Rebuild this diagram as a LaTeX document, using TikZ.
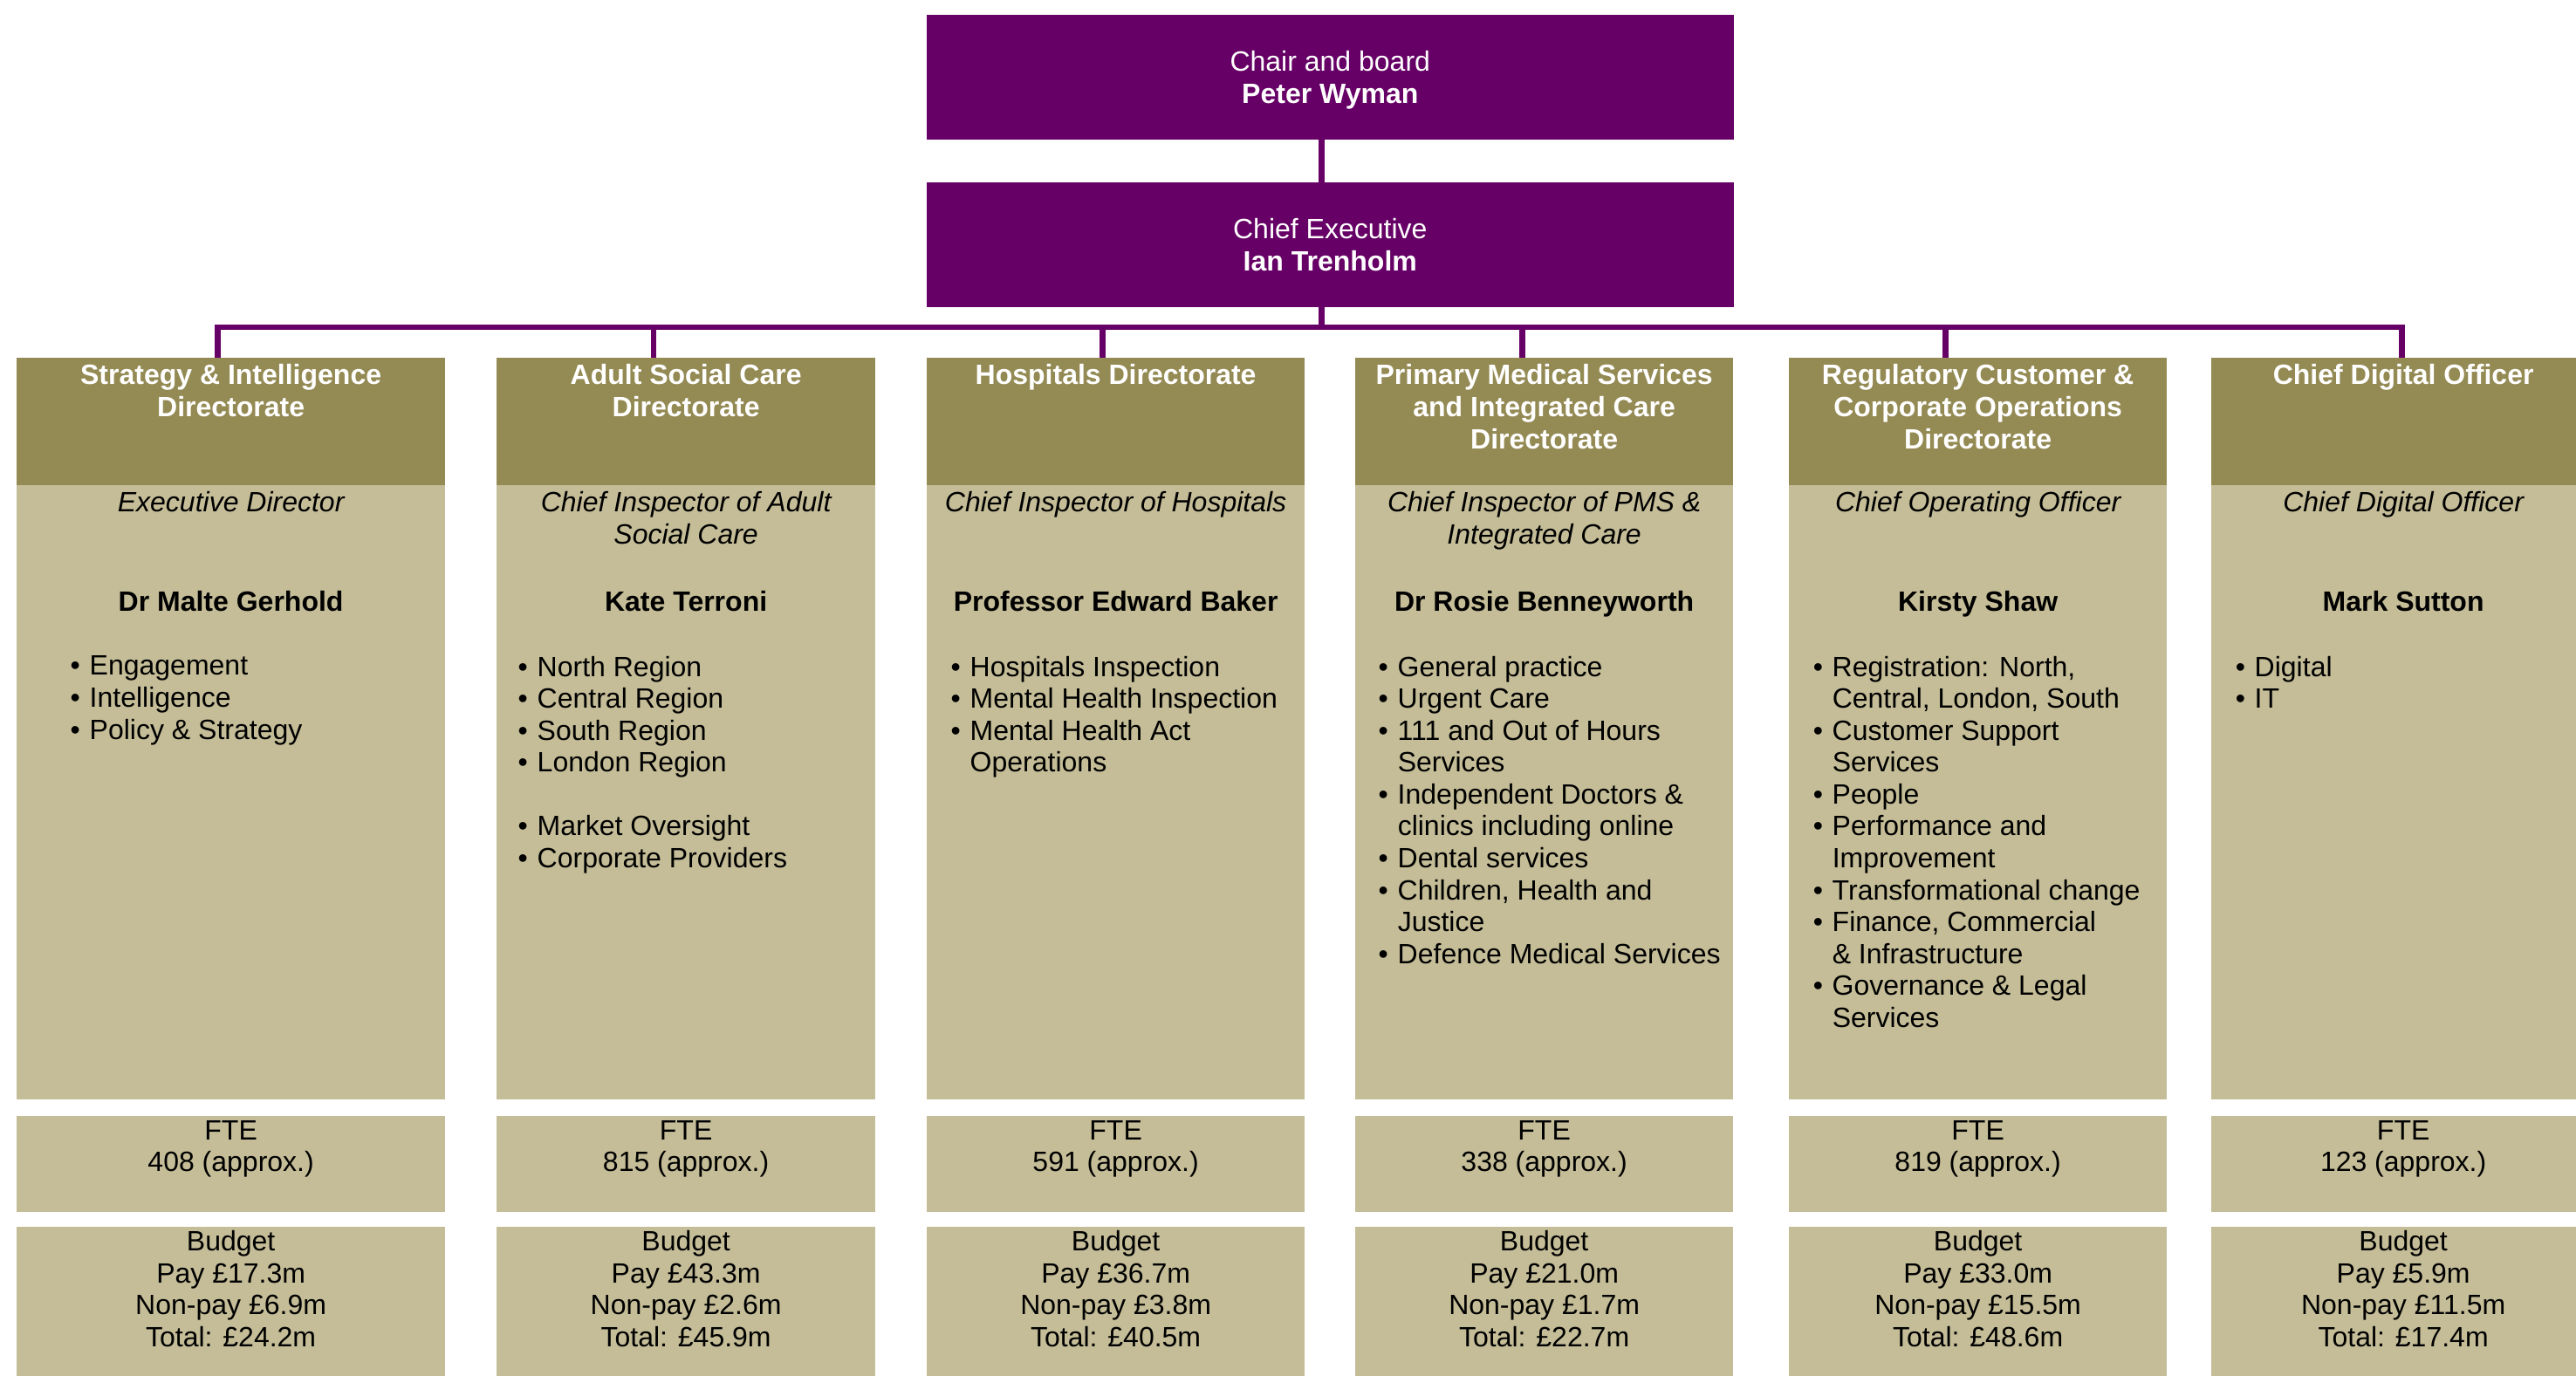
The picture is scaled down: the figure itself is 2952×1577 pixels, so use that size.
\documentclass[tikz,border=0pt]{standalone}
\usepackage{fontspec}
\setmainfont{Liberation Sans}
\usetikzlibrary{positioning}

\definecolor{cqcpurple}{HTML}{660066}
\definecolor{cqcolive}{HTML}{948A54}
\definecolor{cqctan}{HTML}{C4BD97}

\newcommand{\chartfont}{\fontsize{9.1}{10.4}\selectfont}
\newcommand{\bul}{\makebox[0.22cm][l]{\textbullet}}
\newcommand{\ind}{\hspace*{0.22cm}}
\newcommand{\nodepth}[1]{\raisebox{0pt}[\height][0pt]{#1}}

\tikzset{
    exec/.style={fill=cqcpurple, text=white, anchor=north west, inner sep=0pt, outer sep=0pt,
        minimum width=9.24cm, minimum height=1.43cm, align=center, font=\chartfont},
    head/.style={fill=cqcolive, anchor=north west, inner sep=0pt, outer sep=0pt, minimum height=1.47cm},
    panel/.style={fill=cqctan, inner sep=0pt, outer sep=0pt, minimum height=#1},
    link/.style={cqcpurple, line width=1.9pt},
    dirtitle/.style={text=white, inner sep=0pt, align=center, font=\chartfont\bfseries},
    role/.style={inner sep=0pt, align=center, font=\chartfont\itshape},
    who/.style={inner sep=0pt, font=\chartfont\bfseries},
    items/.style={inner sep=0pt, align=left, font=\chartfont},
    figs/.style={inner sep=0pt, align=center, font=\chartfont}
}

\begin{document}
\begin{tikzpicture}[x=0.01cm, y=-0.01cm]
    \useasboundingbox (0,0) rectangle (2952,1577);

    % Chair and chief executive
    \node[exec] (chair) at (1062,17) {Chair and board\\\nodepth{\textbf{Peter Wyman}}};
    \node[exec, below=0.49cm of chair] (ceo) {Chief Executive\\\textbf{Ian Trenholm}};
    \coordinate (bus) at (0,375);

    % Directorate boxes and drop lines
    \foreach \l/\w/\d/\n in {19/4.91cm/-0.15cm/Strat, 569/4.34cm/-0.37cm/Asc,
                             1062/4.33cm/-0.15cm/Hosp, 1553/4.33cm/-0.25cm/Pms,
                             2050/4.33cm/-0.37cm/Reg, 2534/4.4cm/-0.02cm/Cdo} {
        \node[head, minimum width=\w] (hdr\n) at (\l,410) {};
        \node[panel=7.04cm, minimum width=\w, below=-0.01cm of hdr\n] (body\n) {};
        \node[panel=1.10cm, minimum width=\w, below=0.18cm of body\n] (fte\n) {};
        \node[panel=1.80cm, minimum width=\w, below=0.17cm of fte\n] (bud\n) {};
        \coordinate (drop\n) at ([xshift=\d]hdr\n.north);
        \draw[link] (drop\n) -- (drop\n |- bus);
    }

    % Lines from the top
    \draw[link] ([xshift=-0.1cm]chair.south) -- ([xshift=-0.1cm]ceo.north);
    \draw[link] ([xshift=-0.1cm]ceo.south) -- ([xshift=-0.1cm]ceo.south |- bus);
    \draw[link, line cap=rect] (dropStrat |- bus) -- (dropCdo |- bus);

    % Strategy & Intelligence
    \node[dirtitle, below=0.07cm of hdrStrat.north] (ttlStrat) {Strategy \& Intelligence\\Directorate};
    \node[role, below=0.065cm of bodyStrat.north] (roleStrat) {Executive Director};
    \node[who, below=1.2cm of bodyStrat.north] (nameStrat) {Dr Malte Gerhold};
    \node[items, below right=1.95cm and 0.61cm of bodyStrat.north west] (listStrat)
        {\bul Engagement\\\bul Intelligence\\\bul Policy \& Strategy};
    \node[figs, below=0.05cm of fteStrat.north] (numStrat) {FTE\\408 (approx.)};
    \node[figs, below=0.04cm of budStrat.north] (costStrat) {Budget\\Pay £17.3m\\Non-pay £6.9m\\Total: £24.2m};

    % Adult Social Care
    \node[dirtitle, below=0.07cm of hdrAsc.north] (ttlAsc) {Adult Social Care\\Directorate};
    \node[role, below=0.065cm of bodyAsc.north] (roleAsc) {Chief Inspector of Adult\\Social Care};
    \node[who, below=1.2cm of bodyAsc.north] (nameAsc) {Kate Terroni};
    \node[items, below right=1.95cm and 0.24cm of bodyAsc.north west] (listAsc)
        {\bul North Region\\\bul Central Region\\\bul South Region\\\bul London Region\\[10.4pt]
         \bul Market Oversight\\\bul Corporate Providers};
    \node[figs, below=0.05cm of fteAsc.north] (numAsc) {FTE\\815 (approx.)};
    \node[figs, below=0.04cm of budAsc.north] (costAsc) {Budget\\Pay £43.3m\\Non-pay £2.6m\\Total: £45.9m};

    % Hospitals
    \node[dirtitle, below=0.07cm of hdrHosp.north] (ttlHosp) {Hospitals Directorate};
    \node[role, below=0.065cm of bodyHosp.north] (roleHosp) {Chief Inspector of Hospitals};
    \node[who, below=1.2cm of bodyHosp.north] (nameHosp) {Professor Edward Baker};
    \node[items, below right=1.95cm and 0.27cm of bodyHosp.north west] (listHosp)
        {\bul Hospitals Inspection\\\bul Mental Health Inspection\\\bul Mental Health Act\\\ind Operations};
    \node[figs, below=0.05cm of fteHosp.north] (numHosp) {FTE\\591 (approx.)};
    \node[figs, below=0.04cm of budHosp.north] (costHosp) {Budget\\Pay £36.7m\\Non-pay £3.8m\\Total: £40.5m};

    % Primary Medical Services and Integrated Care
    \node[dirtitle, below=0.07cm of hdrPms.north] (ttlPms) {Primary Medical Services\\and Integrated Care\\Directorate};
    \node[role, below=0.065cm of bodyPms.north] (rolePms) {Chief Inspector of PMS \&\\Integrated Care};
    \node[who, below=1.2cm of bodyPms.north] (namePms) {Dr Rosie Benneyworth};
    \node[items, below right=1.95cm and 0.26cm of bodyPms.north west] (listPms)
        {\bul General practice\\\bul Urgent Care\\\bul 111 and Out of Hours\\\ind Services\\
         \bul Independent Doctors \&\\\ind clinics including online\\\bul Dental services\\
         \bul Children, Health and\\\ind Justice\\\bul Defence Medical Services};
    \node[figs, below=0.05cm of ftePms.north] (numPms) {FTE\\338 (approx.)};
    \node[figs, below=0.04cm of budPms.north] (costPms) {Budget\\Pay £21.0m\\Non-pay £1.7m\\Total: £22.7m};

    % Regulatory Customer & Corporate Operations
    \node[dirtitle, below=0.07cm of hdrReg.north] (ttlReg) {Regulatory Customer \&\\Corporate Operations\\Directorate};
    \node[role, below=0.065cm of bodyReg.north] (roleReg) {Chief Operating Officer};
    \node[who, below=1.2cm of bodyReg.north] (nameReg) {Kirsty Shaw};
    \node[items, below right=1.95cm and 0.27cm of bodyReg.north west] (listReg)
        {\bul Registration: North,\\\ind Central, London, South\\\bul Customer Support\\\ind Services\\
         \bul People\\\bul Performance and\\\ind Improvement\\\bul Transformational change\\
         \bul Finance, Commercial\\\ind \& Infrastructure\\\bul Governance \& Legal\\\ind Services};
    \node[figs, below=0.05cm of fteReg.north] (numReg) {FTE\\819 (approx.)};
    \node[figs, below=0.04cm of budReg.north] (costReg) {Budget\\Pay £33.0m\\Non-pay £15.5m\\Total: £48.6m};

    % Chief Digital Officer
    \node[dirtitle, below=0.07cm of hdrCdo.north] (ttlCdo) {Chief Digital Officer};
    \node[role, below=0.065cm of bodyCdo.north] (roleCdo) {Chief Digital Officer};
    \node[who, below=1.2cm of bodyCdo.north] (nameCdo) {Mark Sutton};
    \node[items, below right=1.95cm and 0.27cm of bodyCdo.north west] (listCdo)
        {\bul Digital\\\bul IT};
    \node[figs, below=0.05cm of fteCdo.north] (numCdo) {FTE\\123 (approx.)};
    \node[figs, below=0.04cm of budCdo.north] (costCdo) {Budget\\Pay £5.9m\\Non-pay £11.5m\\Total: £17.4m};
\end{tikzpicture}
\end{document}
